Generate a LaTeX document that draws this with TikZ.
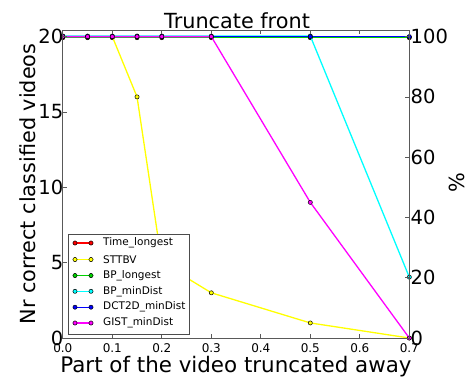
\documentclass[tikz,border=0pt]{standalone}
\usepackage{fontspec}
\setmainfont{DejaVu Sans}
\definecolor{mgreen}{rgb}{0,0.82,0}
\definecolor{mred}{rgb}{1,0,0}
\definecolor{myellow}{rgb}{1,1,0}
\definecolor{mcyan}{rgb}{0,1,1}
\definecolor{mblue}{rgb}{0,0,1}
\definecolor{mmagenta}{rgb}{1,0,1}
\tikzset{
  ser/.style={color=#1, line width=1.3pt, mark=*, mark size=2.1pt,
    mark options={draw=black, line width=0.5pt, fill=#1}},
  frame/.style={draw=black!65, line width=0.9pt},
  tck/.style={draw=black!65, line width=0.7pt},
  ylab/.style={font=\fontsize{19.5}{22}\selectfont, inner sep=0pt},
  xlab/.style={font=\fontsize{12}{14}\selectfont, inner sep=0pt},
  legtext/.style={font=\fontsize{10.5}{12}\selectfont, anchor=west, inner sep=0pt},
  bigtext/.style={font=\fontsize{20.8}{24}\selectfont, inner sep=0pt},
  axtext/.style={font=\fontsize{21.4}{24}\selectfont, inner sep=0pt},
}
\begin{document}
\begin{tikzpicture}[x=1pt,y=-1pt]
\useasboundingbox (0,0) rectangle (470,381);
% data
\begin{scope}[shift={(62.8,338)}, x=495pt, y=15.07pt]
\begin{scope}[yshift=-1.1pt]
\draw[ser=mred] plot coordinates {(0,20) (0.05,20) (0.1,20) (0.15,20) (0.2,20) (0.3,20) (0.5,20) (0.7,20)};
\end{scope}
\draw[ser=myellow] plot coordinates {(0,20) (0.05,20) (0.1,20) (0.15,16) (0.2,5) (0.3,3) (0.5,1) (0.7,0)};
\begin{scope}[yshift=-0.6pt]
\draw[ser=mgreen] plot coordinates {(0,20) (0.05,20) (0.1,20) (0.15,20) (0.2,20) (0.3,20) (0.5,20) (0.7,20)};
\end{scope}
\begin{scope}[yshift=0.6pt]
\draw[ser=mcyan] plot coordinates {(0,20) (0.05,20) (0.1,20) (0.15,20) (0.2,20) (0.3,20) (0.5,20) (0.7,4)};
\end{scope}
\draw[ser=mblue] plot coordinates {(0,20) (0.05,20) (0.1,20) (0.15,20) (0.2,20) (0.3,20) (0.5,20) (0.7,20)};
\draw[ser=mmagenta] plot coordinates {(0,20) (0.05,20) (0.1,20) (0.15,20) (0.2,20) (0.3,20) (0.5,9) (0.7,0)};
\end{scope}
% axes frame
\draw[frame] (62.8,30) rectangle (409.3,338);
% left ticks and labels
\foreach \y/\t [count=\i] in {338/0,262.65/5,187.3/10,111.95/15,36.6/20}{
  \draw[tck] (62.8,\y) -- (66.8,\y);
  \node[ylab, anchor=east] (yl\i) at (63.5,\y) {\t};
}
% right ticks and labels
\foreach \y/\t [count=\i] in {338/0,277.72/20,217.44/40,157.16/60,96.88/80,36.6/100}{
  \draw[tck] (409.3,\y) -- (405.3,\y);
  \node[ylab, anchor=west] (yr\i) at (410.5,\y) {\t};
}
% x ticks and labels
\foreach \x/\t [count=\i] in {62.8/0.0,112.3/0.1,161.8/0.2,211.3/0.3,260.8/0.4,310.3/0.5,359.8/0.6,409.3/0.7}{
  \draw[tck] (\x,338) -- (\x,334);
  \draw[tck] (\x,30) -- (\x,34);
  \node[xlab] (xl\i) at (\x,348) {\t};
}
% legend
\draw[draw=black!70, line width=0.8pt, fill=white] (68.3,234) rectangle (189.5,334.5);
\foreach \yy/\c/\t [count=\i] in {243/mred/Time\_longest,259.5/myellow/STTBV,275.5/mgreen/BP\_longest,291.3/mcyan/BP\_minDist,307.2/mblue/DCT2D\_minDist,323/mmagenta/GIST\_minDist}{
  \draw[ser=\c] plot coordinates {(75,\yy) (91,\yy)};
  \node[legtext] (lg\i) at (103,\yy) {\t};
}
% titles
\node[bigtext, anchor=base] (title) at (237,28) {Truncate front};
\node[axtext, anchor=base] (xlabel) at (236,372) {Part of the video truncated away};
\node[bigtext, anchor=base, rotate=90] (ylabel) at (35,184) {Nr correct classified videos};
\node[bigtext, rotate=90] (pct) at (457,183) {\%};
\end{tikzpicture}
\end{document}
